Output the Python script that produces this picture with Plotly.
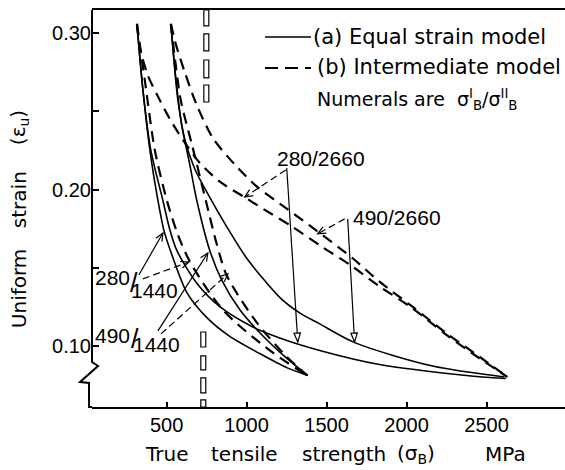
import plotly.graph_objects as go
import math

# ---------------- data ----------------
# sigma_B (MPa) and uniform strain for each composite curve
x_280_1440_a = [315, 352, 396, 446, 483, 527, 627, 752, 895, 1082, 1251, 1382]
y_280_1440_a = [0.306, 0.264, 0.225, 0.193, 0.174, 0.160, 0.134, 0.118, 0.106, 0.095, 0.086, 0.081]

x_280_1440_b = [315, 364, 427, 502, 571, 645, 851, 1145, 1378]
y_280_1440_b = [0.306, 0.270, 0.225, 0.193, 0.171, 0.154, 0.123, 0.097, 0.081]

x_490_1440_a = [527, 552, 595, 645, 689, 770, 845, 958, 1095, 1239, 1382]
y_490_1440_a = [0.306, 0.277, 0.241, 0.216, 0.193, 0.161, 0.142, 0.123, 0.107, 0.093, 0.081]

x_490_1440_b = [527, 546, 589, 658, 745, 814, 876, 1063, 1250, 1378]
y_490_1440_b = [0.306, 0.289, 0.257, 0.229, 0.193, 0.165, 0.145, 0.115, 0.093, 0.081]

x_280_2660_a = [315, 352, 402, 477, 521, 564, 689, 833, 1039, 1207, 1457, 1831, 2374, 2620]
y_280_2660_a = [0.306, 0.264, 0.225, 0.193, 0.174, 0.161, 0.140, 0.125, 0.112, 0.105, 0.097, 0.088, 0.081, 0.079]

x_280_2660_b = [315, 333, 383, 439, 521, 614, 708, 833, 989, 1082, 1288, 1476, 1644, 1831, 2037, 2249, 2455, 2630]
y_280_2660_b = [0.306, 0.291, 0.273, 0.261, 0.245, 0.230, 0.217, 0.205, 0.195, 0.189, 0.176, 0.163, 0.152, 0.138, 0.124, 0.107, 0.092, 0.080]

x_490_2660_a = [527, 546, 571, 614, 677, 770, 883, 1001, 1207, 1332, 1457, 1676, 2163, 2612]
y_490_2660_a = [0.306, 0.283, 0.257, 0.232, 0.213, 0.195, 0.175, 0.156, 0.131, 0.121, 0.114, 0.102, 0.087, 0.080]

x_490_2660_b = [527, 558, 614, 689, 789, 926, 1063, 1207, 1394, 1663, 1831, 2037, 2249, 2455, 2630]
y_490_2660_b = [0.306, 0.293, 0.275, 0.254, 0.233, 0.216, 0.202, 0.191, 0.177, 0.156, 0.141, 0.125, 0.108, 0.093, 0.080]

x_tick_vals = [500, 1000, 1500, 2000, 2500]
x_tick_text = ["500", "1000", "1500", "2000", "2500"]
y_tick_vals = [0.10, 0.15, 0.20, 0.25, 0.30]
y_tick_text = ["0.10", " ", "0.20", " ", "0.30"]

# ---------------- layout constants ----------------
W, H = 565, 470
ML, MR, MT, MB = 92, 0, 10, 63
XR = [34, 2990]
YR = [0.0608, 0.3149]
PW, PH = W - ML - MR, H - MT - MB
NUM_FONT = "Liberation Sans"
TXT_FONT = "DejaVu Sans"


def to_px(x, y):
    return (ML + (x - XR[0]) / (XR[1] - XR[0]) * PW,
            MT + (YR[1] - y) / (YR[1] - YR[0]) * PH)


fig = go.Figure()

curves = [
    (x_280_1440_a, y_280_1440_a, False),
    (x_490_1440_a, y_490_1440_a, False),
    (x_280_2660_a, y_280_2660_a, False),
    (x_490_2660_a, y_490_2660_a, False),
    (x_280_1440_b, y_280_1440_b, True),
    (x_490_1440_b, y_490_1440_b, True),
    (x_280_2660_b, y_280_2660_b, True),
    (x_490_2660_b, y_490_2660_b, True),
]
for xs, ys, dashed in curves:
    fig.add_trace(go.Scatter(
        x=xs, y=ys, mode="lines", hoverinfo="skip", showlegend=False,
        line=dict(color="black", width=2.2 if dashed else 1.6,
                  dash="11px,7px" if dashed else "solid",
                  shape="spline", smoothing=0.8)))

shapes = []
annotations = []

# left axis line with break symbol (paper coords)
shapes.append(dict(type="path", xref="paper", yref="paper",
                   path="M 0,1 L 0,0.1134 L 0.0127,0.1033 L -0.0254,0.063 L -0.0063,0.0605 L -0.0063,0 L 0,0",
                   line=dict(color="black", width=2)))

# scan artefact (hollow marks along a vertical line)
for (x0, x1, y0, y1) in [(733, 764, 0.3047, 0.3149), (733, 764, 0.2887, 0.2996),
                         (733, 764, 0.2714, 0.2829), (733, 764, 0.2560, 0.2669),
                         (714, 745, 0.0992, 0.1088), (714, 745, 0.0845, 0.0935),
                         (714, 745, 0.0698, 0.0794), (714, 745, 0.0608, 0.0653)]:
    shapes.append(dict(type="rect", xref="x", yref="y", x0=x0, x1=x1, y0=y0, y1=y1,
                       line=dict(color="black", width=1.2), fillcolor="rgba(0,0,0,0)"))

# pointer arrows: tail, head, dashed?, head style
arrows = [
    (1251, 0.2138, 1320, 0.1024, False, "tri"),
    (1245, 0.2125, 989, 0.1952, True, "v"),
    (1632, 0.1812, 1675, 0.1024, False, "tri"),
    (1613, 0.1812, 1444, 0.1716, True, "v"),
    (327, 0.1453, 477, 0.1722, False, "v"),
    (352, 0.1428, 639, 0.1536, True, "v"),
    (446, 0.1095, 758, 0.1594, False, "v"),
    (465, 0.1076, 883, 0.1460, True, "v"),
]
for tx, ty, hx, hy, dashed, style in arrows:
    shapes.append(dict(type="line", xref="x", yref="y", x0=tx, y0=ty, x1=hx, y1=hy,
                       line=dict(color="black", width=1.2,
                                 dash="7px,4px" if dashed else "solid")))
    ptx, pty = to_px(tx, ty)
    phx, phy = to_px(hx, hy)
    L = math.hypot(phx - ptx, phy - pty)
    ux, uy = (phx - ptx) / L, (phy - pty) / L
    nx, ny = -uy, ux
    hl, hw = (9, 3.2) if style == "tri" else (8, 3.5)
    b1 = (-hl * ux + hw * nx, -hl * uy + hw * ny)
    b2 = (-hl * ux - hw * nx, -hl * uy - hw * ny)
    # pixel offsets, y positive upwards
    p = f"M {b1[0]:.2f},{-b1[1]:.2f} L 0,0 L {b2[0]:.2f},{-b2[1]:.2f}"
    if style == "tri":
        p += " Z"
    shapes.append(dict(type="path", xref="x", yref="y", xsizemode="pixel", ysizemode="pixel",
                       xanchor=hx, yanchor=hy, path=p,
                       fillcolor="white" if style == "tri" else "rgba(0,0,0,0)",
                       line=dict(color="black", width=1.2)))

# legend-like key (paper coords)
shapes.append(dict(type="line", xref="paper", yref="paper", x0=0.3658, x1=0.463, y0=0.932, y1=0.932,
                   line=dict(color="black", width=1.6)))
shapes.append(dict(type="line", xref="paper", yref="paper", x0=0.3658, x1=0.463, y0=0.8539, y1=0.8539,
                   line=dict(color="black", width=2.2, dash="13px,7px")))


def txt(x, y, s, size=20, font=TXT_FONT, xref="paper", yref="paper", xanchor="left", angle=0):
    annotations.append(dict(x=x, y=y, xref=xref, yref=yref, text=s, showarrow=False,
                            xanchor=xanchor, yanchor="middle", textangle=angle,
                            font=dict(family=font, size=size, color="black")))


txt(0.4630, 0.932, "(a) Equal strain model", size=21)
txt(0.4715, 0.8564, "(b) Intermediate model", size=21)
txt(0.4715, 0.7758, "Numerals are  σ<sup>I</sup><sub>B</sub>/σ<sup>II</sup><sub>B</sub>", size=19)

# curve labels (data coords)
txt(1463, 0.2196, "280/2660", size=21, font=NUM_FONT, xref="x", yref="y", xanchor="center")
txt(1937, 0.1824, "490/2660", size=21, font=NUM_FONT, xref="x", yref="y", xanchor="center")
txt(159, 0.1434, "280", size=21, font=NUM_FONT, xref="x", yref="y", xanchor="center")
txt(296, 0.1402, "/", size=27, font=NUM_FONT, xref="x", yref="y", xanchor="center")
txt(427, 0.1351, "1440", size=21, font=NUM_FONT, xref="x", yref="y", xanchor="center")
txt(159, 0.1063, "490", size=21, font=NUM_FONT, xref="x", yref="y", xanchor="center")
txt(302, 0.1044, "/", size=27, font=NUM_FONT, xref="x", yref="y", xanchor="center")
txt(439, 0.1005, "1440", size=21, font=NUM_FONT, xref="x", yref="y", xanchor="center")

# axis titles
ty = -0.1184
txt(0.1078, ty, "True", size=20)
txt(0.2474, ty, "tensile", size=20)
txt(0.4397, ty, "strength", size=20)
txt(0.6406, ty, "(σ<sub>B</sub>)", size=20)
txt(0.8266, ty, "MPa", size=20)

txt(-0.154, 0.2997, "Uniform", size=20, xanchor="center", angle=-90)
txt(-0.154, 0.5214, "strain", size=20, xanchor="center", angle=-90)
txt(-0.154, 0.7028, "(ε<sub>u</sub>)", size=20, xanchor="center", angle=-90)

fig.update_layout(
    width=W, height=H,
    margin=dict(l=ML, r=MR, t=MT, b=MB, pad=0),
    paper_bgcolor="white", plot_bgcolor="white",
    showlegend=False,
    shapes=shapes, annotations=annotations,
    xaxis=dict(range=XR, tickvals=x_tick_vals, ticktext=x_tick_text,
               ticks="inside", ticklen=5, tickwidth=1.5, tickcolor="black",
               showline=True, linewidth=2, linecolor="black", mirror=True,
               showgrid=False, zeroline=False, ticklabelstandoff=-1,
               tickfont=dict(family=NUM_FONT, size=20, color="black")),
    yaxis=dict(range=YR, tickvals=y_tick_vals, ticktext=y_tick_text,
               ticks="inside", ticklen=7, tickwidth=1.5, tickcolor="black",
               showline=False, showgrid=False, zeroline=False,
               tickfont=dict(family=NUM_FONT, size=20, color="black")),
)

fig.write_html("out.html")
